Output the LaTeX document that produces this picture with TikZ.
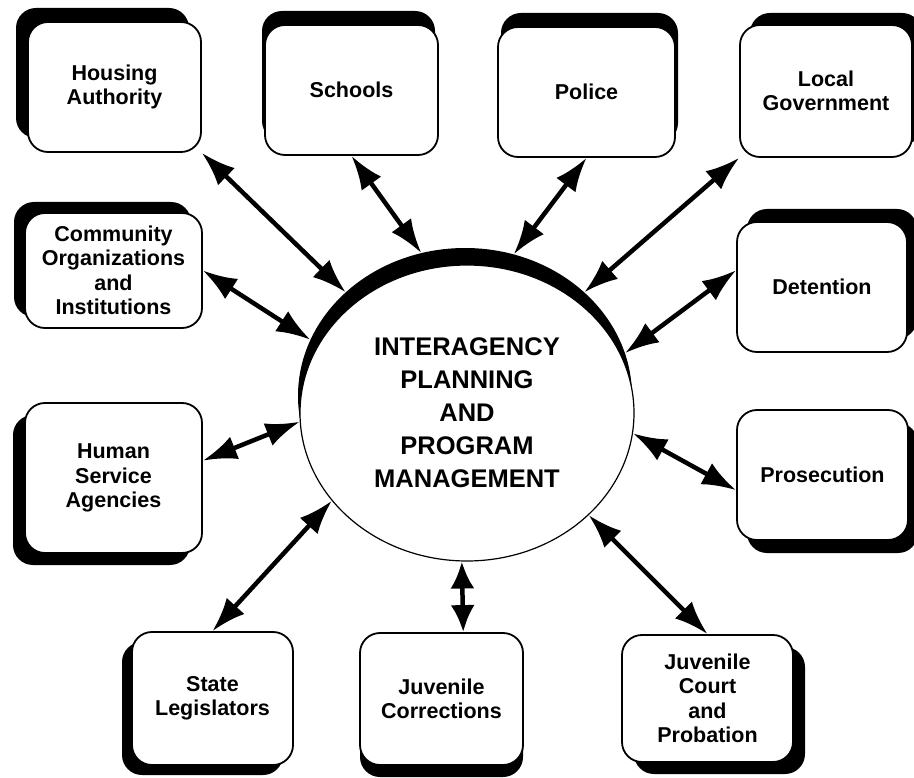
\documentclass[tikz,border=0pt]{standalone}
\usepackage{fontspec}
\setmainfont{Liberation Sans}
\usetikzlibrary{arrows.meta, shapes.geometric, shadows}

\begin{document}
\begin{tikzpicture}[x=1pt, y=-1pt,
	agency/.style={draw=black, line width=1.8pt, fill=white, rounded corners=20pt,
		minimum width=173pt, minimum height=130pt, align=center, inner sep=2pt,
		font=\bfseries\fontsize{21.5}{24.5}\selectfont},
	cast/.style 2 args={drop shadow={shadow xshift=#1, shadow yshift=#2, fill=black, opacity=1}},
	link/.style={{Latex[length=#1, width=24pt]}-{Latex[length=#1, width=24pt]}, line width=4.5pt},
	link/.default=34pt]
	\useasboundingbox (0,0) rectangle (914,778);

	% the hub
	\node[ellipse, fill=black, minimum width=334pt, minimum height=296pt] (rim) at (465,396) {};
	\node[ellipse, draw=black, line width=1.2pt, fill=white, minimum width=334pt, minimum height=296pt,
		inner sep=0pt, align=center, font=\bfseries\fontsize{25.5}{33}\selectfont] (core) at (467,413)
		{INTERAGENCY\\PLANNING\\AND\\PROGRAM\\MANAGEMENT};

	% agencies round the hub
	\node[agency, cast={-12pt}{14pt}] (hous) at (114.5,87) {Housing\\Authority};
	\node[agency, cast={-3pt}{14pt}] (scho) at (351.5,90) {Schools};
	\node[agency, cast={3pt}{14pt}, minimum width=177pt] (poli) at (586.5,92) {Police};
	\node[agency, cast={10pt}{12pt}, minimum width=172pt, minimum height=132pt] (locg) at (826,91) {Local\\Government};
	\node[agency, cast={-11pt}{11pt}, minimum width=177pt, minimum height=115pt] (comm) at (113.5,270.5) {Community\\Organizations\\and\\Institutions};
	\node[agency, cast={10pt}{13pt}, minimum width=170pt] (dete) at (822,287) {Detention};
	\node[agency, cast={-12pt}{-12pt}, minimum width=177pt, minimum height=150pt] (huma) at (113.5,478) {Human\\Service\\Agencies};
	\node[agency, cast={10pt}{-13pt}, minimum width=171pt] (pros) at (822.5,475) {Prosecution};
	\node[agency, cast={-10pt}{-10pt}, minimum width=161pt, minimum height=133pt] (stat) at (212.5,698.5) {State\\Legislators};
	\node[agency, cast={0pt}{-12pt}, minimum width=163pt, minimum height=132pt] (juvc) at (441.5,699) {Juvenile\\Corrections};
	\node[agency, cast={12pt}{-12pt}, minimum width=171pt, minimum height=127pt] (cour) at (707.5,698.5) {Juvenile\\Court\\and\\Probation};

	\foreach \from/\to in {hous.south east/rim.139, scho.south/rim.107, poli.south/rim.71,
		locg.south west/rim.41, comm.east/rim.160, dete.169/rim.15,
		huma.11/core.183, pros.190/core.353, stat.north/core.213,
		cour.north/core.320}
		\draw[link] (\from) -- (\to);
	\draw[link=27pt] (juvc.72) -- (core.268);
\end{tikzpicture}
\end{document}
